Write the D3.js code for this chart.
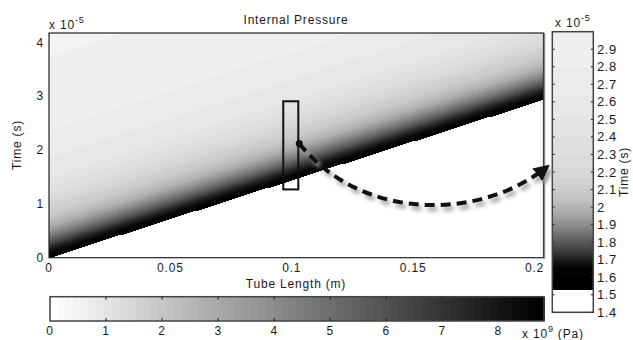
<!DOCTYPE html>
<html>
<head>
<meta charset="utf-8">
<script src="https://cdn.jsdelivr.net/npm/d3@7"></script>
<style>
  body { margin: 0; background: #fff; }
  svg text { font-family: "Liberation Sans", Arial, sans-serif; font-size: 12px; fill: #1a1a1a; letter-spacing: 0.8px; }
</style>
</head>
<body>
<svg id="chart" width="633" height="340"></svg>
<script>
// axis ticks
const xTicks = [0, 0.05, 0.1, 0.15, 0.2];          // tube length (m)
const tTicks = [0, 1, 2, 3, 4];                    // time (x 1e-5 s)
const pTicks = [0, 1, 2, 3, 4, 5, 6, 7, 8];        // pressure (x 1e9 Pa)
const sliceTicks = [1.4, 1.5, 1.6, 1.7, 1.8, 1.9, 2, 2.1, 2.2, 2.3, 2.4, 2.5, 2.6, 2.7, 2.8, 2.9];

// wave front: time of arrival grows with tube length (read at the right edge)
const frontX = [0, 0.2037];
const frontT = [0, 2.94];

// pressure behind the front vs delay after the front passes
const delay    = [0,    0.1, 0.2, 0.3, 0.4, 0.5, 0.6, 0.7, 0.8, 1.0, 1.2, 1.5, 2.0, 2.5, 3.0, 4.2];
const pressure = [8.8,  8.5, 7.4, 5.9, 4.7, 3.7, 2.8, 2.3, 1.9, 1.5, 1.2, 0.95, 0.78, 0.66, 0.6, 0.52];

// zoomed slice (right bar): pressure vs time
const sliceTime     = [1.53, 1.66, 1.70, 1.756, 1.85, 1.945, 2.04, 2.14, 2.23, 2.4, 2.6, 2.8, 3.0];
const slicePressure = [8.8,  8.6,  7.8,  6.6,   4.9,  3.3,   2.2,  1.6,  1.35, 1.1, 0.86, 0.69, 0.55];

const pMax = 8.815;

const svg = d3.select("#chart");

const x = d3.scaleLinear().domain([0, 0.2037]).range([49, 543.5]);
const y = d3.scaleLinear().domain([0, 4.18]).range([257.7, 33]);
const front = d3.scaleLinear().domain(frontX).range(frontT);
const profile = d3.scaleLinear().domain(delay).range(pressure).clamp(true);
const sliceProfile = d3.scaleLinear().domain(sliceTime).range(slicePressure).clamp(true);

// flipped 64-level gray colormap
const levels = d3.range(64).map(i => d3.rgb(255 * (1 - i / 63), 255 * (1 - i / 63), 255 * (1 - i / 63)).toString());
const color = d3.scaleQuantize().domain([0, pMax]).range(levels);

// ---- main image: columns, merging runs of the same gray
const img = svg.append("g").attr("shape-rendering", "crispEdges");
const nx = 165, ny = 225;
const dx = 0.2037 / nx, dt = 4.18 / ny;
for (let i = 0; i < nx; i++) {
  const xc = (i + 0.5) * dx;
  let runStart = 0, runColor = null;
  for (let j = 0; j <= ny; j++) {
    let c = null;
    if (j < ny) {
      const tc = (j + 0.5) * dt;
      const d = tc - front(xc);
      c = d < 0 ? color(0) : color(profile(d));
    }
    if (c !== runColor) {
      if (runColor !== null) {
        img.append("rect")
          .attr("x", x(i * dx))
          .attr("width", x((i + 1) * dx) - x(i * dx) + 0.5)
          .attr("y", y(j * dt))
          .attr("height", y(runStart * dt) - y(j * dt) + 0.5)
          .attr("fill", runColor);
      }
      runStart = j; runColor = c;
    }
  }
}

// frame
svg.append("rect")
  .attr("x", x(0)).attr("y", y(4.18))
  .attr("width", x(0.2037) - x(0)).attr("height", y(0) - y(4.18))
  .attr("fill", "none").attr("stroke", "#222").attr("stroke-width", 1.2);
svg.append("line")
  .attr("x1", x(0.2037) + 1).attr("x2", x(0.2037) + 1)
  .attr("y1", y(4.18)).attr("y2", y(0) + 1)
  .attr("stroke", "#888").attr("stroke-width", 1.5);

// tick labels
svg.append("g").selectAll("text").data(xTicks).enter().append("text")
  .attr("x", d => x(d)).attr("y", 272)
  .attr("text-anchor", "middle")
  .text(d => d === 0 ? "0" : String(d));
svg.append("g").selectAll("text").data(tTicks).enter().append("text")
  .attr("x", 44).attr("y", d => y(d) + 4)
  .attr("text-anchor", "end")
  .text(d => d);

// titles
svg.append("text").attr("x", 296).attr("y", 24).attr("text-anchor", "middle").text("Internal Pressure");
svg.append("text").attr("x", 296).attr("y", 288).attr("text-anchor", "middle").text("Tube Length (m)");
svg.append("text").attr("transform", "translate(21,145) rotate(-90)").attr("text-anchor", "middle").text("Time (s)");

const expo = (g, px, py, sup) => {
  const t = g.append("text").attr("x", px).attr("y", py);
  t.append("tspan").text("x 10");
  t.append("tspan").attr("dy", -6).style("font-size", "9px").text(sup);
  return t;
};
expo(svg, 49, 29, "-5");

// ---- annotation: slice box, dot and curved arrow
const defs = svg.append("defs");
defs.append("filter").attr("id", "blur").attr("x", "-20%").attr("y", "-20%").attr("width", "140%").attr("height", "160%")
  .append("feGaussianBlur").attr("stdDeviation", 2.2);
defs.append("marker").attr("id", "head").attr("viewBox", "0 0 10 10")
  .attr("refX", 8).attr("refY", 5).attr("markerWidth", 4).attr("markerHeight", 4)
  .attr("markerUnits", "strokeWidth").attr("orient", "auto")
  .append("path").attr("d", "M0,0 L10,5 L0,10 z").attr("fill", "#111");
defs.append("marker").attr("id", "headShadow").attr("viewBox", "0 0 10 10")
  .attr("refX", 8).attr("refY", 5).attr("markerWidth", 4).attr("markerHeight", 4)
  .attr("markerUnits", "strokeWidth").attr("orient", "auto")
  .append("path").attr("d", "M0,0 L10,5 L0,10 z").attr("fill", "#999");

const sliceBox = { x0: 0.0965, x1: 0.1027, t0: 1.27, t1: 2.91 };
svg.append("rect")
  .attr("x", x(sliceBox.x0)).attr("y", y(sliceBox.t1))
  .attr("width", x(sliceBox.x1) - x(sliceBox.x0))
  .attr("height", y(sliceBox.t0) - y(sliceBox.t1))
  .attr("fill", "none").attr("stroke", "#111").attr("stroke-width", 2);

// ---- right colorbar (slice)
const sy = d3.scaleLinear().domain([1.4, 3.0]).range([312.3, 31.7]);
const cbR = { x0: 552.3, x1: 593.3 };
const sg = svg.append("g");
const nS = 280;
const sRects = sg.append("g").attr("shape-rendering", "crispEdges");
for (let k = 0; k < nS; k++) {
  const t0 = 1.4 + k * 1.6 / nS, t1 = 1.4 + (k + 1) * 1.6 / nS;
  const tc = (t0 + t1) / 2;
  sRects.append("rect")
    .attr("x", cbR.x0).attr("width", cbR.x1 - cbR.x0)
    .attr("y", sy(t1)).attr("height", sy(t0) - sy(t1) + 0.5)
    .attr("fill", tc < sliceTime[0] ? "#fff" : color(sliceProfile(tc)));
}
sg.append("rect").attr("x", cbR.x0).attr("y", sy(3.0))
  .attr("width", cbR.x1 - cbR.x0).attr("height", sy(1.4) - sy(3.0))
  .attr("fill", "none").attr("stroke", "#444").attr("stroke-width", 1.5);
sg.selectAll(".tl").data(sliceTicks).enter().append("line")
  .attr("x1", cbR.x0).attr("x2", cbR.x0 + 2.5)
  .attr("y1", d => sy(d)).attr("y2", d => sy(d)).attr("stroke", "#333");
sg.selectAll(".tr").data(sliceTicks).enter().append("line")
  .attr("x1", cbR.x1 - 2.5).attr("x2", cbR.x1)
  .attr("y1", d => sy(d)).attr("y2", d => sy(d)).attr("stroke", "#333");
sg.selectAll("text").data(sliceTicks).enter().append("text")
  .attr("x", 597).attr("y", d => sy(d) + 4.5)
  .style("font-size", "13px").style("letter-spacing", "0.6px")
  .text(d => d);
expo(svg, 555, 27, "-5");
svg.append("text").attr("transform", "translate(628,172) rotate(-90)")
  .attr("text-anchor", "middle").text("Time (s)");

// arrow from the slice to the bar
const dot = { x: 0.1031, t: 2.126 };
const target = { t: 2.23 };
const p0 = [x(dot.x), y(dot.t)];
const p3 = [cbR.x0 - 5, sy(target.t)];
const arrowPath = d3.path();
arrowPath.moveTo(p0[0], p0[1]);
arrowPath.bezierCurveTo(p0[0] + 60, p0[1] + 76, p3[0] - 70, p3[1] + 56, p3[0], p3[1]);
svg.append("path").attr("d", arrowPath.toString())
  .attr("transform", "translate(3,4)")
  .attr("fill", "none").attr("stroke", "#999").attr("stroke-width", 4)
  .attr("stroke-dasharray", "10,6").attr("marker-end", "url(#headShadow)")
  .attr("filter", "url(#blur)");
svg.append("path").attr("d", arrowPath.toString())
  .attr("fill", "none").attr("stroke", "#111").attr("stroke-width", 4)
  .attr("stroke-dasharray", "10,6").attr("marker-end", "url(#head)");
svg.append("circle").attr("cx", p0[0]).attr("cy", p0[1]).attr("r", 3.5).attr("fill", "#111");

// ---- bottom colorbar (pressure)
const cx = d3.scaleLinear().domain([0, pMax]).range([50, 544]);
const cbB = { y0: 296.7, y1: 321 };
const bg = svg.append("g");
bg.append("g").attr("shape-rendering", "crispEdges")
  .selectAll("rect").data(levels).enter().append("rect")
  .attr("x", (d, i) => cx(i * pMax / 64))
  .attr("width", cx(pMax / 64) - cx(0) + 0.5)
  .attr("y", cbB.y0).attr("height", cbB.y1 - cbB.y0)
  .attr("fill", d => d);
bg.append("rect").attr("x", cx(0)).attr("y", cbB.y0)
  .attr("width", cx(pMax) - cx(0)).attr("height", cbB.y1 - cbB.y0)
  .attr("fill", "none").attr("stroke", "#444").attr("stroke-width", 1.5);
bg.selectAll(".tt").data(pTicks.slice(1)).enter().append("line")
  .attr("x1", d => cx(d)).attr("x2", d => cx(d))
  .attr("y1", cbB.y0).attr("y2", cbB.y0 + 3).attr("stroke", "#222");
bg.selectAll(".tb").data(pTicks.slice(1)).enter().append("line")
  .attr("x1", d => cx(d)).attr("x2", d => cx(d))
  .attr("y1", cbB.y1 - 3).attr("y2", cbB.y1).attr("stroke", "#222");
bg.selectAll("text").data(pTicks).enter().append("text")
  .attr("x", d => cx(d)).attr("y", 335)
  .attr("text-anchor", "middle").text(d => d);
const unit = expo(svg, 522, 338, "9");
unit.append("tspan").attr("dy", 6).text(" (Pa)");
</script>
</body>
</html>
